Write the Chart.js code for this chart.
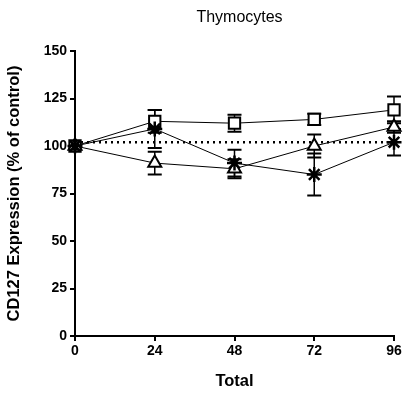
<!DOCTYPE html>
<html>
<head>
<meta charset="utf-8">
<script src="https://cdn.jsdelivr.net/npm/chart.js@4/dist/chart.umd.min.js"></script>
<style>
  html, body { margin: 0; padding: 0; background: #fff; }
  #wrap { width: 404px; height: 396px; }
</style>
</head>
<body>
<div id="wrap"><canvas id="c" width="404" height="396"></canvas></div>
<script>
// Time points (hours) and tick labels
const hours = [0, 24, 48, 72, 96];
const xTicks = [0, 24, 48, 72, 96];
const yTicks = [0, 25, 50, 75, 100, 125, 150];

// Mean CD127 expression (% of control) and error per series
const squareMean = [100, 113, 112, 114, 119];
const squareErr  = [0, 6, 4.5, 3, 7];
const triangleMean = [100, 91, 88, 100, 110];
const triangleErr  = [0, 6, 5, 6, 3];
const starMean = [100, 109, 91, 85, 102];
const starErr  = [0, 10, 7, 11, 7];

// Dotted reference level
const referenceLevel = [102, 102];
const referenceHours = [0, 96];

const FONT = "'Liberation Sans', Arial, Helvetica, sans-serif";

const toPoints = (xs, ys) => xs.map((x, i) => ({ x: x, y: ys[i] }));

// Error bars with caps, drawn beneath the markers
const errorBars = {
  id: 'errorBars',
  beforeDatasetsDraw(chart) {
    const { ctx, scales: { x, y } } = chart;
    ctx.save();
    ctx.strokeStyle = '#000';
    chart.data.datasets.forEach((ds) => {
      if (!ds.errors) return;
      ds.data.forEach((p, i) => {
        const e = ds.errors[i];
        if (!e) return;
        const px = x.getPixelForValue(p.x);
        const top = y.getPixelForValue(p.y + e);
        const bot = y.getPixelForValue(p.y - e);
        ctx.lineWidth = 1.5;
        ctx.beginPath();
        ctx.moveTo(px, top);
        ctx.lineTo(px, bot);
        ctx.stroke();
        ctx.lineWidth = 2;
        ctx.beginPath();
        ctx.moveTo(px - 7, top);
        ctx.lineTo(px + 7, top);
        ctx.moveTo(px - 7, bot);
        ctx.lineTo(px + 7, bot);
        ctx.stroke();
      });
    });
    ctx.restore();
  }
};

// Chart heading centred over the plot area
const heading = {
  id: 'heading',
  afterDraw(chart) {
    const { ctx, chartArea } = chart;
    ctx.save();
    ctx.fillStyle = '#000';
    ctx.font = "16px " + FONT;
    ctx.textAlign = 'center';
    ctx.textBaseline = 'middle';
    ctx.fillText('Thymocytes', (chartArea.left + chartArea.right) / 2 + 5, 18);
    ctx.restore();
  }
};

new Chart(document.getElementById('c'), {
  type: 'line',
  data: {
    datasets: [
      {
        label: 'Reference',
        data: toPoints(referenceHours, referenceLevel),
        borderColor: '#000',
        borderWidth: 2.5,
        borderDash: [2, 4],
        pointRadius: 0,
        clip: false,
        order: 4
      },
      {
        label: 'Square',
        data: toPoints(hours, squareMean),
        errors: squareErr,
        borderColor: '#000',
        borderWidth: 1,
        pointStyle: 'rect',
        pointRadius: 8,
        pointBorderWidth: 2,
        pointBackgroundColor: '#fff',
        pointBorderColor: '#000',
        clip: false,
        order: 3
      },
      {
        label: 'Triangle',
        data: toPoints(hours, triangleMean),
        errors: triangleErr,
        borderColor: '#000',
        borderWidth: 1,
        pointStyle: 'triangle',
        pointRadius: 7.5,
        pointBorderWidth: 2,
        pointBackgroundColor: '#fff',
        pointBorderColor: '#000',
        clip: false,
        order: 2
      },
      {
        label: 'Star',
        data: toPoints(hours, starMean),
        errors: starErr,
        borderColor: '#000',
        borderWidth: 1,
        pointStyle: 'star',
        pointRadius: 7.5,
        pointBorderWidth: 2.5,
        pointBackgroundColor: '#000',
        pointBorderColor: '#000',
        clip: false,
        order: 1
      }
    ]
  },
  plugins: [errorBars, heading],
  options: {
    responsive: false,
    animation: false,
    events: [],
    layout: { padding: { top: 51, right: 9, left: 0, bottom: 0 } },
    plugins: {
      legend: { display: false },
      title: { display: false },
      tooltip: { enabled: false }
    },
    elements: { line: { tension: 0 } },
    scales: {
      x: {
        type: 'linear',
        min: 0,
        max: 96,
        afterBuildTicks(scale) { scale.ticks = xTicks.map(v => ({ value: v })); },
        afterFit(scale) { scale.height = 60; },
        ticks: {
          color: '#000',
          font: { family: FONT, size: 14, weight: 'bold' },
          padding: 2,
          maxRotation: 0
        },
        grid: {
          display: true,
          drawOnChartArea: false,
          drawTicks: true,
          tickLength: 5,
          lineWidth: 2,
          color: '#000'
        },
        border: { display: true, color: '#000', width: 2 },
        title: {
          display: true,
          text: 'Total',
          color: '#000',
          font: { family: FONT, size: 16.5, weight: 'bold' },
          padding: { top: 0, bottom: 5 }
        }
      },
      y: {
        type: 'linear',
        min: 0,
        max: 150,
        afterBuildTicks(scale) { scale.ticks = yTicks.map(v => ({ value: v })); },
        afterFit(scale) { scale.width = 75; },
        ticks: {
          color: '#000',
          font: { family: FONT, size: 14, weight: 'bold' },
          padding: 3
        },
        grid: {
          display: true,
          drawOnChartArea: false,
          drawTicks: true,
          tickLength: 5,
          lineWidth: 2,
          color: '#000'
        },
        border: { display: true, color: '#000', width: 2 },
        title: {
          display: true,
          text: 'CD127 Expression (% of control)',
          color: '#000',
          font: { family: FONT, size: 16.5, weight: 'bold' },
          padding: { top: 5, bottom: 0 }
        }
      }
    }
  }
});
</script>
</body>
</html>
